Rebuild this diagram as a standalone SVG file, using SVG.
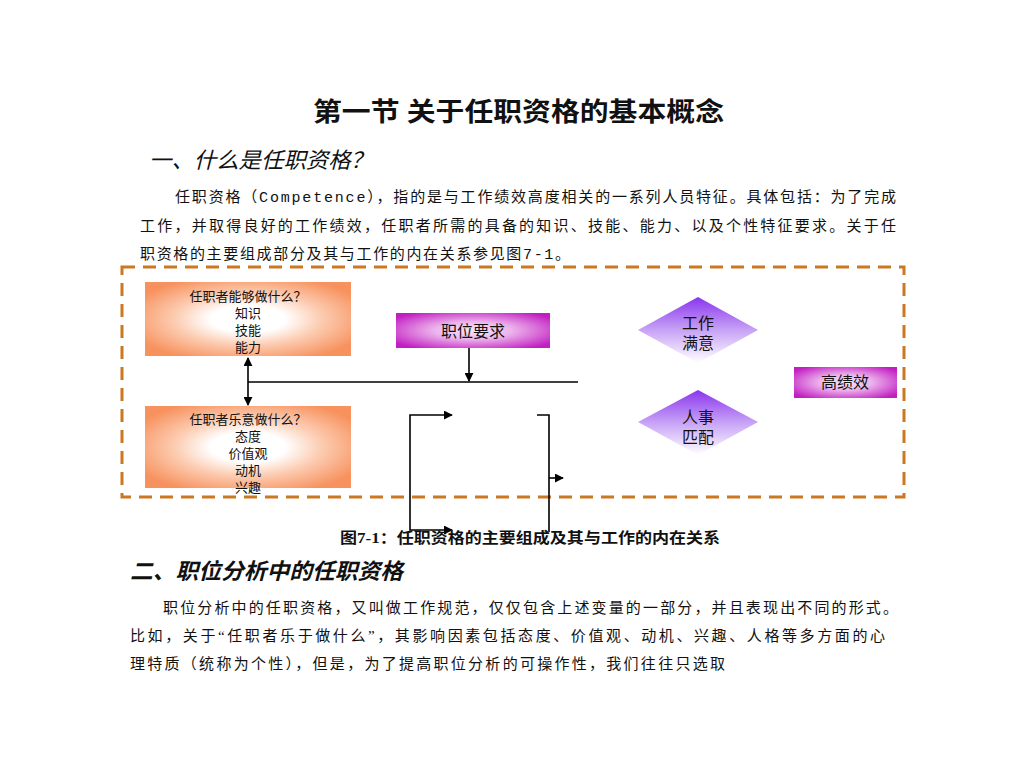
<svg xmlns="http://www.w3.org/2000/svg" width="1024" height="768" viewBox="0 0 1024 768">
<style>
.t{font-family:"Liberation Serif","Noto Sans CJK SC",serif;fill:#111}
.m{font-family:"Liberation Mono","Noto Sans CJK SC",monospace}
.p{font-size:15px}
.h{font-size:22px;font-style:italic}
.b{font-size:13px;text-anchor:middle}
.c{font-size:16px;text-anchor:middle}
.ln{stroke:#000;stroke-width:1.6;fill:none}
</style>
<defs>
<radialGradient id="og" cx="50%" cy="50%" r="60%">
<stop offset="0" stop-color="#ffffff"/>
<stop offset="0.3" stop-color="#ffffff"/>
<stop offset="0.6" stop-color="#fccbb0"/>
<stop offset="1" stop-color="#f7925e"/>
</radialGradient>
<radialGradient id="mg" cx="50%" cy="50%" r="62%">
<stop offset="0" stop-color="#f8e6f8"/>
<stop offset="0.4" stop-color="#ecb4ec"/>
<stop offset="1" stop-color="#c21fc2"/>
</radialGradient>
<linearGradient id="dg" x1="0" y1="0" x2="0" y2="1">
<stop offset="0" stop-color="#8a35ee"/>
<stop offset="0.5" stop-color="#c7a2f6"/>
<stop offset="1" stop-color="#ffffff"/>
</linearGradient>
<marker id="ah" viewBox="0 0 10 10" refX="9" refY="5" markerWidth="9" markerHeight="9" markerUnits="userSpaceOnUse" orient="auto-start-reverse">
<path d="M0,0 L10,5 L0,10 Z" fill="#000"/>
</marker>
</defs>
<rect width="1024" height="768" fill="#fff"/>

<text class="t" x="313" y="121" font-size="26" font-weight="bold" textLength="411" lengthAdjust="spacingAndGlyphs">第一节 关于任职资格的基本概念</text>
<text class="t h" x="149" y="168" textLength="224" lengthAdjust="spacingAndGlyphs">一、什么是任职资格？</text>

<text class="t p" x="175" y="202" textLength="721" lengthAdjust="spacing">任职资格（<tspan class="m">Competence</tspan>），指的是与工作绩效高度相关的一系列人员特征。具体包括：为了完成</text>
<text class="t p" x="140" y="231" textLength="756" lengthAdjust="spacing">工作，并取得良好的工作绩效，任职者所需的具备的知识、技能、能力、以及个性特征要求。关于任</text>
<text class="t p" x="140" y="259" textLength="430" lengthAdjust="spacing">职资格的主要组成部分及其与工作的内在关系参见图<tspan class="m">7-1</tspan>。</text>

<rect x="122" y="267" width="782" height="230" fill="none" stroke="#cc7722" stroke-width="3" stroke-dasharray="13 8"/>

<g id="connectors">
<line class="ln" x1="248" y1="382" x2="578" y2="382"/>
<line class="ln" x1="248" y1="358" x2="248" y2="405" marker-start="url(#ah)" marker-end="url(#ah)"/>
<line class="ln" x1="469" y1="348" x2="469" y2="381" marker-end="url(#ah)"/>
<path class="ln" d="M452,530 L410,530 L410,415 L452,415" marker-start="url(#ah)" marker-end="url(#ah)"/>
<path class="ln" d="M537,415 L549,415 L549,532"/>
<line class="ln" x1="549" y1="478" x2="563" y2="478" marker-end="url(#ah)"/>
</g>

<g id="node-can">
<rect x="145" y="282" width="206" height="74" fill="url(#og)"/>
<text class="t b" x="248" y="301">任职者能够做什么？</text>
<text class="t b" x="248" y="318">知识</text>
<text class="t b" x="248" y="335">技能</text>
<text class="t b" x="248" y="352">能力</text>
</g>

<g id="node-will">
<rect x="145" y="406" width="206" height="82" fill="url(#og)"/>
<text class="t b" x="248" y="424">任职者乐意做什么？</text>
<text class="t b" x="248" y="441">态度</text>
<text class="t b" x="248" y="458">价值观</text>
<text class="t b" x="248" y="475">动机</text>
<text class="t b" x="248" y="492">兴趣</text>
</g>

<g id="node-job">
<rect x="396" y="313" width="154" height="35" fill="url(#mg)"/>
<text class="t c" x="473" y="337" font-size="17">职位要求</text>
</g>

<g id="node-satisfy">
<polygon points="698,297 758,330 698,363 638,330" fill="url(#dg)"/>
<text class="t c" x="698" y="329">工作</text>
<text class="t c" x="698" y="349">满意</text>
</g>

<g id="node-match">
<polygon points="698,390 758,422 698,455 638,422" fill="url(#dg)"/>
<text class="t c" x="698" y="423">人事</text>
<text class="t c" x="698" y="443">匹配</text>
</g>

<g id="node-perf">
<rect x="794" y="367" width="103" height="31" fill="url(#mg)"/>
<text class="t c" x="845" y="388">高绩效</text>
</g>

<text class="t" x="340" y="543" font-size="15" font-weight="bold" textLength="380" lengthAdjust="spacingAndGlyphs">图7-1：任职资格的主要组成及其与工作的内在关系</text>

<text class="t h" x="130" y="579" font-weight="bold" textLength="273" lengthAdjust="spacingAndGlyphs">二、职位分析中的任职资格</text>

<text class="t p" x="163" y="613" textLength="735" lengthAdjust="spacing">职位分析中的任职资格，又叫做工作规范，仅仅包含上述变量的一部分，并且表现出不同的形式。</text>
<text class="t p" x="130" y="641" textLength="755" lengthAdjust="spacing">比如，关于“任职者乐于做什么”，其影响因素包括态度、价值观、动机、兴趣、人格等多方面的心</text>
<text class="t p" x="130" y="669" textLength="595" lengthAdjust="spacing">理特质（统称为个性），但是，为了提高职位分析的可操作性，我们往往只选取</text>
</svg>
